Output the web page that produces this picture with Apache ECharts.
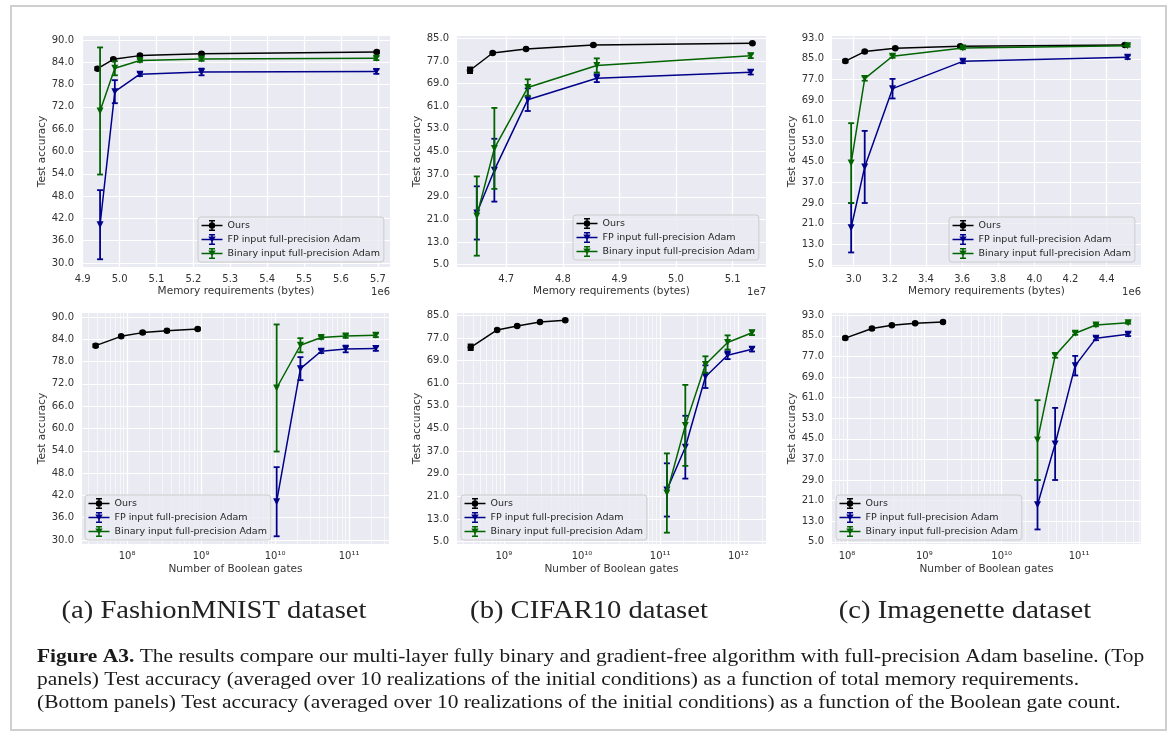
<!DOCTYPE html>
<html>
<head>
<meta charset="utf-8">
<title>Figure A3</title>
<script src="https://cdn.jsdelivr.net/npm/echarts@6/dist/echarts.min.js"></script>
<style>
  html, body { margin: 0; padding: 0; background: #fff; }
  #chart { width: 1170px; height: 736px; }
</style>
</head>
<body>
<div id="chart"></div>
<script>
var seriesNames = ['Ours', 'FP input full-precision Adam', 'Binary input full-precision Adam'];
var seriesColors = ['#000000', '#00008b', '#006400'];

// (a) FashionMNIST  (memory in units of 1e6 bytes)
var memA_ours = [4.940, 4.983, 5.055, 5.222, 5.697];
var memA_base = [4.947, 4.987, 5.055, 5.222, 5.696];
var gatesA_ours = [3.75e7, 8.3e7, 1.62e8, 3.45e8, 9.0e8];
var gatesA_base = [1.05e10, 2.2e10, 4.2e10, 9.0e10, 2.3e11];
var accA_ours = [82.3, 84.8, 85.8, 86.3, 86.8];
var errA_ours = [0.4, 0.3, 0.3, 0.3, 0.3];
var accA_fp = [40.3, 76.1, 80.8, 81.4, 81.5];
var errA_fp = [9.3, 3.1, 0.5, 0.9, 0.6];
var accA_bin = [70.9, 82.4, 84.5, 84.9, 85.1];
var errA_bin = [17.1, 1.9, 0.4, 0.5, 0.5];

// (b) CIFAR10  (memory in units of 1e7 bytes)
var memB_ours = [4.636, 4.676, 4.735, 4.854, 5.135];
var memB_base = [4.648, 4.679, 4.738, 4.860, 5.132];
var gatesB_ours = [3.76e8, 8.2e8, 1.48e9, 2.9e9, 6.1e9];
var gatesB_base = [1.22e11, 2.1e11, 3.8e11, 7.3e11, 1.5e12];
var accB_ours = [73.7, 79.8, 81.2, 82.6, 83.2];
var errB_ours = [1.0, 0.4, 0.3, 0.3, 0.3];
var accB_fp = [23.3, 38.4, 63.3, 70.9, 73.0];
var errB_fp = [9.4, 11.1, 4.0, 1.4, 0.8];
var accB_bin = [22.2, 46.1, 67.6, 75.4, 78.8];
var errB_bin = [14.0, 14.3, 2.9, 2.5, 0.8];

// (c) Imagenette  (memory in units of 1e6 bytes)
var memC_ours = [2.954, 3.061, 3.230, 3.590, 4.500];
var memC_base = [2.986, 3.061, 3.215, 3.604, 4.516];
var gatesC_ours = [9.5e7, 2.1e8, 3.8e8, 7.6e8, 1.74e9];
var gatesC_base = [2.9e10, 4.9e10, 8.9e10, 1.65e11, 4.3e11];
var accC_ours = [84.1, 87.8, 89.1, 89.9, 90.4];
var errC_ours = [0.5, 0.4, 0.3, 0.3, 0.3];
var accC_fp = [19.4, 43.0, 73.4, 84.0, 85.6];
var errC_fp = [9.6, 14.0, 3.8, 0.7, 0.7];
var accC_bin = [44.5, 77.3, 86.0, 89.2, 90.1];
var errC_bin = [15.5, 0.8, 0.6, 0.5, 0.4];

// tick labels
var accTicksA = [30, 36, 42, 48, 54, 60, 66, 72, 78, 84, 90];
var accTicksB = [5, 13, 21, 29, 37, 45, 53, 61, 69, 77, 85];
var accTicksC = [5, 13, 21, 29, 37, 45, 53, 61, 69, 77, 85, 93];
var memTicksA = [4.9, 5.0, 5.1, 5.2, 5.3, 5.4, 5.5, 5.6, 5.7];
var memTicksB = [4.7, 4.8, 4.9, 5.0, 5.1];
var memTicksC = [3.0, 3.2, 3.4, 3.6, 3.8, 4.0, 4.2, 4.4];
var gateTicksA = [1e8, 1e9, 1e10, 1e11];
var gateTicksB = [1e9, 1e10, 1e11, 1e12];
var gateTicksC = [1e8, 1e9, 1e10, 1e11];

var chart = echarts.init(document.getElementById('chart'));

var FONT = 'DejaVu Sans';
var TXT = '#333333';

var grids = [
    {left: 82, top: 36, width: 308, height: 231},
    {left: 457, top: 36, width: 309, height: 231},
    {left: 832, top: 36, width: 309, height: 231},
    {left: 82, top: 313, width: 307, height: 231},
    {left: 457, top: 313, width: 309, height: 231},
    {left: 832, top: 313, width: 309, height: 231}
];
grids.forEach(function (g) {
    g.show = true;
    g.backgroundColor = '#eaeaf2';
    g.borderWidth = 0;
    g.containLabel = false;
    g.outerBoundsMode = 'none';
});

var SUP = {'0': '\u2070', '1': '\u00b9', '2': '\u00b2', '3': '\u00b3', '4': '\u2074',
    '5': '\u2075', '6': '\u2076', '7': '\u2077', '8': '\u2078', '9': '\u2079'};
function powLabel(v) {
    var e = String(Math.round(Math.log10(v)));
    return '10' + e.split('').map(function (c) { return SUP[c]; }).join('');
}

// minor log grid lines at 2..9 x 10^k inside [lo, hi] (log10 limits)
function minorTicks(lo, hi) {
    var out = [];
    for (var e = Math.floor(lo); e <= Math.ceil(hi); e++) {
        for (var k = 2; k <= 9; k++) {
            var lv = Math.log10(k) + e;
            if (lv > lo && lv < hi) out.push(k * Math.pow(10, e));
        }
    }
    return out;
}

function memAxis(gi, min, max, ticks) {
    return {
        type: 'value', gridIndex: gi, min: min, max: max,
        name: 'Memory requirements (bytes)', nameLocation: 'middle', nameGap: 19,
        nameTextStyle: {fontFamily: FONT, fontSize: 10.5, color: TXT},
        axisLine: {show: false},
        axisTick: {show: false, customValues: ticks},
        axisLabel: {customValues: ticks, margin: 7, fontFamily: FONT, fontSize: 10, color: TXT,
            formatter: function (v) { return v.toFixed(1); }},
        splitLine: {show: true, lineStyle: {color: '#ffffff', width: 1.2}}
    };
}

function gateAxis(gi, lo, hi, ticks) {
    return {
        type: 'log', logBase: 10, gridIndex: gi, min: Math.pow(10, lo), max: Math.pow(10, hi),
        name: 'Number of Boolean gates', nameLocation: 'middle', nameGap: 20,
        nameTextStyle: {fontFamily: FONT, fontSize: 10.5, color: TXT},
        axisLine: {show: false},
        axisTick: {show: false, customValues: ticks},
        axisLabel: {customValues: ticks, margin: 7, fontFamily: FONT, fontSize: 10, color: TXT,
            formatter: powLabel},
        splitLine: {show: true, lineStyle: {color: '#ffffff', width: 1.2}}
    };
}

function minorAxis(gi, lo, hi) {
    var m = minorTicks(lo, hi);
    return {
        type: 'log', logBase: 10, gridIndex: gi, min: Math.pow(10, lo), max: Math.pow(10, hi),
        axisLine: {show: false},
        axisTick: {show: false, customValues: m},
        axisLabel: {show: false},
        splitLine: {show: true, lineStyle: {color: '#ffffff', width: 0.6}}
    };
}

function accAxis(gi, min, max, ticks) {
    return {
        type: 'value', gridIndex: gi, min: min, max: max,
        name: 'Test accuracy', nameLocation: 'middle', nameGap: 34,
        nameTextStyle: {fontFamily: FONT, fontSize: 10.5, color: TXT},
        axisLine: {show: false},
        axisTick: {show: false, customValues: ticks},
        axisLabel: {customValues: ticks, margin: 8, fontFamily: FONT, fontSize: 10, color: TXT,
            formatter: function (v) { return v.toFixed(1); }},
        splitLine: {show: true, lineStyle: {color: '#ffffff', width: 1.2}}
    };
}

var xAxes = [
    memAxis(0, 4.898, 5.733, memTicksA),
    memAxis(1, 4.613, 5.159, memTicksB),
    memAxis(2, 2.880, 4.590, memTicksC),
    gateAxis(3, 7.39, 11.54, gateTicksA),
    gateAxis(4, 8.40, 12.355, gateTicksB),
    gateAxis(5, 7.806, 11.80, gateTicksC),
    minorAxis(3, 7.39, 11.54),
    minorAxis(4, 8.40, 12.355),
    minorAxis(5, 7.806, 11.80)
];

var yAxes = [
    accAxis(0, 28.92, 91.08, accTicksA),
    accAxis(1, 4.2, 85.8, accTicksB),
    accAxis(2, 4.15, 93.85, accTicksC),
    accAxis(3, 28.92, 91.08, accTicksA),
    accAxis(4, 4.2, 85.8, accTicksB),
    accAxis(5, 4.15, 93.85, accTicksC)
];

function errorBar(color) {
    return function (params, api) {
        var x = api.value(0);
        var top = api.coord([x, api.value(2)]);
        var bot = api.coord([x, api.value(1)]);
        var cap = 3;
        var st = {stroke: color, lineWidth: 1.8};
        return {
            type: 'group',
            children: [
                {type: 'line', shape: {x1: top[0], y1: top[1], x2: bot[0], y2: bot[1]}, style: st},
                {type: 'line', shape: {x1: top[0] - cap, y1: top[1], x2: top[0] + cap, y2: top[1]}, style: st},
                {type: 'line', shape: {x1: bot[0] - cap, y1: bot[1], x2: bot[0] + cap, y2: bot[1]}, style: st}
            ]
        };
    };
}

var series = [];
function addPanel(gi, xsOurs, xsBase, ours, oursErr, fp, fpErr, bin, binErr) {
    var groups = [[xsOurs, ours, oursErr], [xsBase, fp, fpErr], [xsBase, bin, binErr]];
    groups.forEach(function (g, k) {
        var pts = [];
        var bars = [];
        for (var i = 0; i < g[0].length; i++) {
            pts.push([g[0][i], g[1][i]]);
            bars.push([g[0][i], g[1][i] - g[2][i], g[1][i] + g[2][i]]);
        }
        series.push({
            type: 'line', name: seriesNames[k], xAxisIndex: gi, yAxisIndex: gi,
            data: pts, z: 3 + 2 * k,
            symbol: k === 0 ? 'circle' : 'triangle',
            symbolRotate: k === 0 ? 0 : 180,
            symbolSize: k === 0 ? 6.5 : 7,
            lineStyle: {color: seriesColors[k], width: 1.5},
            itemStyle: {color: seriesColors[k], borderWidth: 0}
        });
        series.push({
            type: 'custom', name: seriesNames[k], xAxisIndex: gi, yAxisIndex: gi,
            data: bars, z: 2 + 2 * k,
            encode: {x: 0, y: [1, 2]},
            itemStyle: {color: seriesColors[k]},
            renderItem: errorBar(seriesColors[k])
        });
    });
}
addPanel(0, memA_ours, memA_base, accA_ours, errA_ours, accA_fp, errA_fp, accA_bin, errA_bin);
addPanel(1, memB_ours, memB_base, accB_ours, errB_ours, accB_fp, errB_fp, accB_bin, errB_bin);
addPanel(2, memC_ours, memC_base, accC_ours, errC_ours, accC_fp, errC_fp, accC_bin, errC_bin);
addPanel(3, gatesA_ours, gatesA_base, accA_ours, errA_ours, accA_fp, errA_fp, accA_bin, errA_bin);
addPanel(4, gatesB_ours, gatesB_base, accB_ours, errB_ours, accB_fp, errB_fp, accB_bin, errB_bin);
addPanel(5, gatesC_ours, gatesC_base, accC_ours, errC_ours, accC_fp, errC_fp, accC_bin, errC_bin);

// errorbar legend handles: line + bar with caps + marker
var barPart = 'M0,4.75H21V6.25H0Z M9.75,0H11.25V11H9.75Z M7.5,0H13.5V1.4H7.5Z M7.5,9.6H13.5V11H7.5Z ';
var legendIcons = [
    'path://' + barPart + 'M7.3,5.5A3.2,3.2,0,1,1,13.7,5.5A3.2,3.2,0,1,1,7.3,5.5Z',
    'path://' + barPart + 'M6.8,2.4L14.2,2.4L10.5,8.8Z',
    'path://' + barPart + 'M6.8,2.4L14.2,2.4L10.5,8.8Z'
];

function legendAt(left, top) {
    return {
        left: left, top: top, orient: 'vertical',
        data: seriesNames.map(function (n, k) { return {name: n, icon: legendIcons[k]}; }),
        itemWidth: 21, itemHeight: 11, itemGap: 3,
        padding: [3, 4, 3, 3.5],
        backgroundColor: 'rgba(234,234,242,0.8)',
        borderColor: '#cccccc', borderWidth: 1, borderRadius: 3,
        textStyle: {fontFamily: FONT, fontSize: 9.5, color: '#262626'},
        itemStyle: {borderWidth: 0},
        selectedMode: false
    };
}

var SERIF = 'Liberation Serif';
function offsetText(x, y, t) {
    return {type: 'text', x: x, y: y,
        style: {text: t, fontFamily: FONT, fontSize: 10, fill: TXT, align: 'right', verticalAlign: 'middle'}};
}
// the printed captions use wider serif faces, so stretch a little
function subCaption(x, t) {
    return {type: 'text', x: x, y: 611, scaleX: 1.1,
        style: {text: t, fontFamily: SERIF, fontSize: 26, fill: '#222', align: 'center', verticalAlign: 'middle'}};
}
function captionLine(y, t) {
    return {type: 'text', x: 37, y: y, scaleX: 1.1,
        style: {text: t, fontFamily: SERIF, fontSize: 19.5, fill: '#1a1a1a', align: 'left', verticalAlign: 'middle',
            rich: {b: {fontFamily: SERIF, fontSize: 19.5, fontWeight: 'bold', fill: '#1a1a1a'}}}};
}

var option = {
    backgroundColor: '#ffffff',
    animation: false,
    grid: grids,
    xAxis: xAxes,
    yAxis: yAxes,
    legend: [
        legendAt(198, 217), legendAt(573, 215), legendAt(949, 217),
        legendAt(85, 495), legendAt(461, 495), legendAt(836, 495)
    ],
    series: series,
    graphic: [
        {type: 'rect', shape: {x: 11, y: 6, width: 1155, height: 724},
            style: {fill: 'none', stroke: '#cfcfcf', lineWidth: 2}},
        offsetText(390, 292, '1e6'),
        offsetText(766, 292, '1e7'),
        offsetText(1141, 292, '1e6'),
        subCaption(214, '(a) FashionMNIST dataset'),
        subCaption(589, '(b) CIFAR10 dataset'),
        subCaption(965, '(c) Imagenette dataset'),
        captionLine(657, '{b|Figure A3.} The results compare our multi-layer fully binary and gradient-free algorithm with full-precision Adam baseline. (Top'),
        captionLine(680, 'panels) Test accuracy (averaged over 10 realizations of the initial conditions) as a function of total memory requirements.'),
        captionLine(703, '(Bottom panels) Test accuracy (averaged over 10 realizations of the initial conditions) as a function of the Boolean gate count.')
    ]
};
chart.setOption(option);
</script>
</body>
</html>
